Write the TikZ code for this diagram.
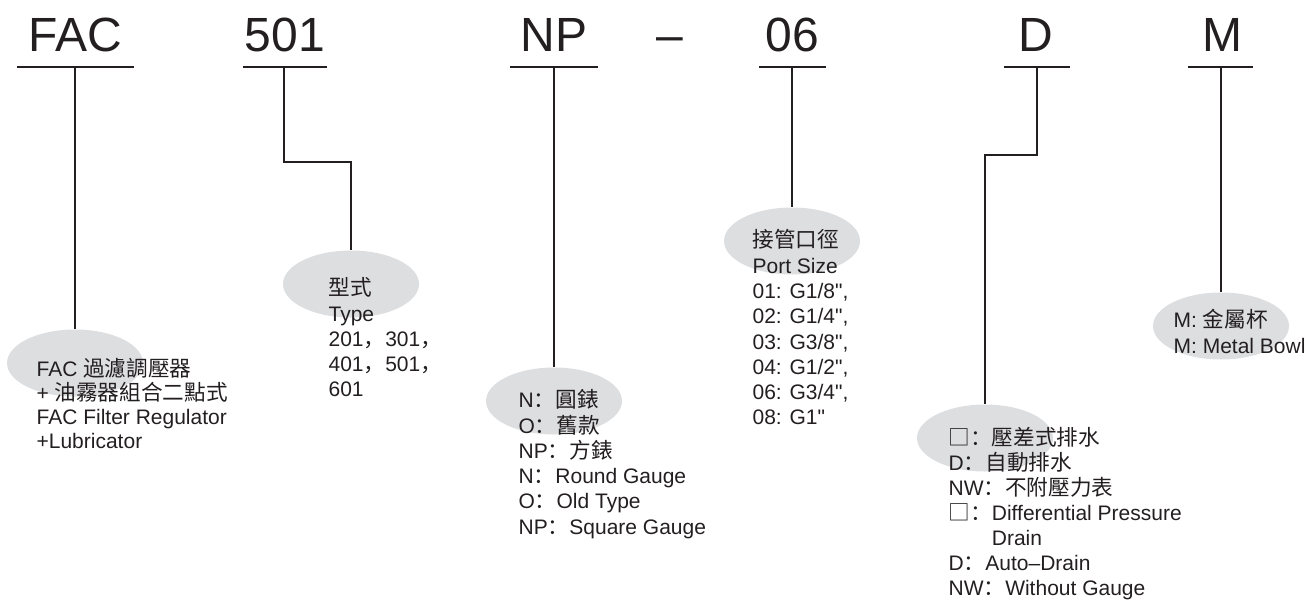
\documentclass[tikz,border=0pt]{standalone}
\usepackage{fontspec}
\setmainfont{Liberation Sans}[Ligatures=TeXOff]
\newfontfamily\cjk[Scale=1.03]{Noto Sans CJK SC}
\usetikzlibrary{positioning, shapes.geometric}
\definecolor{ink}{RGB}{35, 31, 32}
\definecolor{bubblegray}{RGB}{221, 222, 224}
\newcommand{\zh}[1]{{\cjk #1}}

\begin{document}
\begin{tikzpicture}[
                x = 1pt, y = -1pt, % image pixels
                color = ink,
                line width = 1.25pt, % line style
                font = \fontsize{21}{25.3}\selectfont
                ]
                \tikzset{
                    code/.style = {font=\fontsize{48}{48}\selectfont, inner sep=0pt, anchor=base},
                    bubble/.style = {ellipse, fill=bubblegray, minimum width=136pt,
                                     minimum height=67pt, inner sep=0pt},
                    desc/.style = {align=left, anchor=north west, inner sep=0pt},
                }
                \useasboundingbox (0,0) rectangle (1307,600);

                % model code
                \node[code] (fac) at (75,51) {FAC};
                \node[code] (type) at (285,51) {501};
                \node[code] (gauge) at (554,51) {NP};
                \node[code] (dash) at (670,51) {–};
                \node[code] (port) at (792,51) {06};
                \node[code] (drain) at (1036,51) {D};
                \node[code] (bowl) at (1222,51) {M};

                \coordinate (facU) at (75,67);
                \coordinate (typeU) at (284,67);
                \coordinate (gaugeU) at (554,67);
                \coordinate (portU) at (792,67);
                \coordinate (drainU) at (1037,67);
                \coordinate (bowlU) at (1221,67);

                \draw ([xshift=-58pt]facU) -- ([xshift=59pt]facU);
                \draw ([xshift=-41pt]typeU) -- ([xshift=43pt]typeU);
                \draw ([xshift=-44pt]gaugeU) -- ([xshift=44pt]gaugeU);
                \draw ([xshift=-33pt]portU) -- ([xshift=34pt]portU);
                \draw ([xshift=-33pt]drainU) -- ([xshift=33pt]drainU);
                \draw ([xshift=-33pt]bowlU) -- ([xshift=32pt]bowlU);

                % gray bubbles
                \node[bubble] (facE) at (75,363) {};
                \node[bubble] (typeE) at (351,284) {};
                \node[bubble] (gaugeE) at (554,401) {};
                \node[bubble] (portE) at (792,241) {};
                \node[bubble] (drainE) at (985,438) {};
                \node[bubble] (bowlE) at (1221,326) {};

                \draw (facU) -- (facE.north);
                \draw (typeU) -- ++(0,95) -| (typeE.north);
                \draw (gaugeU) -- (gaugeE.north);
                \draw (portU) -- (portE.north);
                \draw (drainU) -- ++(0,88) -| (drainE.north);
                \draw (bowlU) -- (bowlE.north);

                % descriptions
                \node[desc, font=\fontsize{21}{23.8}\selectfont] (facT) at (36,358) {
                FAC \zh{過濾調壓器}\\
                + \zh{油霧器組合二點式}\\
                FAC Filter Regulator\\
                +Lubricator};

                \node[desc] (typeT) at (328,277) {
                \zh{型式}\\
                Type\\
                201\zh{，}301\zh{，}\\
                401\zh{，}501\zh{，}\\
                601};

                \node[desc] (gaugeT) at (518,389) {
                N\zh{：圓錶}\\
                O\zh{：舊款}\\
                NP\zh{：方錶}\\
                N\zh{：}Round Gauge\\
                O\zh{：}Old Type\\
                NP\zh{：}Square Gauge};

                \node[desc] (portT) at (752,229) {
                \zh{接管口徑}\\
                Port Size\\
                01: G1/8",\\
                02: G1/4",\\
                03: G3/8",\\
                04: G1/2",\\
                06: G3/4",\\
                08: G1"};

                \node[desc, font=\fontsize{21}{25}\selectfont] (drainT) at (948,427) {
                \zh{□：壓差式排水}\\
                D\zh{：自動排水}\\
                NW\zh{：不附壓力表}\\
                \zh{□：}Differential Pressure\\
                \phantom{\zh{□：}}Drain\\
                D\zh{：}Auto–Drain\\
                NW\zh{：}Without Gauge};

                \node[desc] (bowlT) at (1173,309) {
                M: \zh{金屬杯}\\
                M: Metal Bowl};
\end{tikzpicture}
\end{document}
